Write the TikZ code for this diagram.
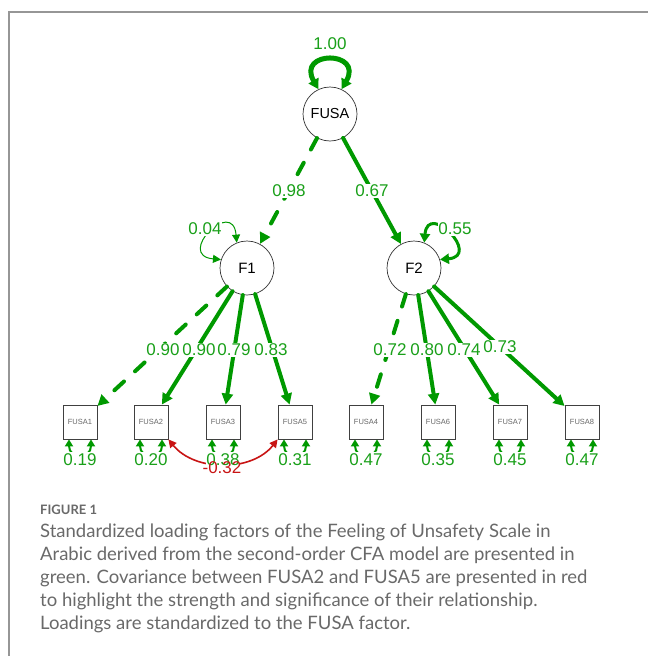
\documentclass[tikz,border=0pt]{standalone}
\usepackage{fontspec}
\setmainfont{Liberation Sans}
\newfontfamily\capfont{Lato}
\usetikzlibrary{arrows.meta}
\definecolor{lg}{RGB}{0,153,0}
\definecolor{lt}{RGB}{25,160,25}
\definecolor{cr}{RGB}{200,20,20}
\definecolor{fr}{RGB}{150,150,150}
\definecolor{capc}{RGB}{105,105,105}
\begin{document}
\begin{tikzpicture}[x=1pt,y=1pt,
  lat/.style={circle,draw=black!80,minimum size=54pt,inner sep=0pt,line width=0.7pt,font=\fontsize{14.5}{16}\selectfont},
  obs/.style={rectangle,draw=black!75,minimum size=34pt,inner sep=0pt,line width=0.8pt,text=black!60,font=\fontsize{7.5}{8}\selectfont},
  load/.style={lg,line width=4pt,line cap=round,-{Triangle[length=11pt,width=11pt]}},
  dload/.style={load,dash pattern=on 13pt off 15pt},
  biglab/.style={text=lt,fill=white,inner sep=0.5pt,font=\fontsize{17}{18}\selectfont},
  reslab/.style={text=lt,fill=white,inner xsep=0.5pt,inner ysep=2pt,font=\fontsize{17}{18}\selectfont},
  resloop/.style={lg,line width=2pt,{Triangle[length=7pt,width=8pt]}-{Triangle[length=7pt,width=8pt]}},
  covline/.style={cr,line width=1.6pt,{Triangle[length=8pt,width=8pt]}-{Triangle[length=8pt,width=8pt]}},
  caption/.style={anchor=base west,inner sep=0pt,text=capc,font=\capfont\fontsize{18.5}{20}\selectfont}
]
\useasboundingbox (0,0) rectangle (648,-656);
% frame
\draw[fr,line width=1.5pt] (9,-656) -- (9,-12) -- (648,-12);

% nodes
\node[lat] (FUSA) at (330,-114) {FUSA};
\node[lat,font=\fontsize{15}{16}\selectfont] (F1) at (247,-268) {F1};
\node[lat,font=\fontsize{15}{16}\selectfont] (F2) at (414,-268) {F2};
\node[obs] (x1) at (80,-422) {FUSA1};
\node[obs] (x2) at (151,-422) {FUSA2};
\node[obs] (x3) at (223,-422) {FUSA3};
\node[obs] (x5) at (295,-422) {FUSA5};
\node[obs] (x4) at (366,-422) {FUSA4};
\node[obs] (x6) at (438,-422) {FUSA6};
\node[obs] (x7) at (510,-422) {FUSA7};
\node[obs] (x8) at (582,-422) {FUSA8};

% loadings
\draw[dload] (FUSA) -- (F1);
\draw[load] (FUSA) -- (F2);
\draw[dload] (F1) -- (x1);
\draw[load] (F1) -- (x2);
\draw[load] (F1) -- (x3);
\draw[load] (F1) -- (x5);
\draw[dload] (F2) -- (x4);
\draw[load] (F2) -- (x6);
\draw[load] (F2) -- (x7);
\draw[load] (F2) -- (x8);

% variances of latents
\draw[lg,line width=5pt,{Triangle[length=10pt,width=11pt]}-{Triangle[length=10pt,width=11pt]}]
  (FUSA.115) .. controls +(120:45) and +(60:45) .. (FUSA.65);
\draw[lg,line width=1pt,{Triangle[length=8pt,width=8pt]}-{Triangle[length=8pt,width=8pt]}]
  (F1.112) .. controls +(95:46) and +(175:46) .. (F1.162);
\draw[lg,line width=3pt,{Triangle[length=9pt,width=10pt]}-{Triangle[length=9pt,width=10pt]}]
  (F2.68) .. controls +(85:42) and +(5:42) .. (F2.18);

% residual loops
\foreach \n in {x1,x2,x3,x4,x5,x6,x7,x8}{
  \draw[resloop] ([xshift=-11pt]\n.south) .. controls +(0,-20) and +(0,-20) .. ([xshift=11pt]\n.south);
}

% covariance
\draw[covline] (x2.south east) .. controls (195,-472) and (252,-472) .. (x5.south west);

% labels
\node[biglab] at (330,-44) {1.00};
\node[biglab] at (289,-191) {0.98};
\node[biglab] at (372,-191) {0.67};
\node[biglab] at (205,-229) {0.04};
\node[biglab] at (455,-229) {0.55};
\node[biglab] at (163,-350) {0.90};
\node[biglab] at (199,-350) {0.90};
\node[biglab] at (234,-350) {0.79};
\node[biglab] at (271,-350) {0.83};
\node[biglab] at (390,-350) {0.72};
\node[biglab] at (427,-350) {0.80};
\node[biglab] at (464,-350) {0.74};
\node[biglab] at (500,-347) {0.73};
\node[reslab] at (80,-460) {0.19};
\node[reslab] at (151,-460) {0.20};
\node[reslab] at (223,-460) {0.38};
\node[reslab] at (295,-460) {0.31};
\node[reslab] at (366,-460) {0.47};
\node[reslab] at (438,-460) {0.35};
\node[reslab] at (510,-460) {0.45};
\node[reslab] at (582,-460) {0.47};
\node[text=cr,inner sep=0pt,font=\fontsize{17}{18}\selectfont] at (222,-468) {-0.32};

% caption
\node[anchor=base west,inner sep=0pt,text=capc,font=\capfont\bfseries\fontsize{13}{14}\selectfont] at (40,-514) {FIGURE 1};
\node[caption] at (40,-537) {Standardized loading factors of the Feeling of Unsafety Scale in};
\node[caption] at (40,-560) {Arabic derived from the second-order CFA model are presented in};
\node[caption] at (40,-583) {green. Covariance between FUSA2 and FUSA5 are presented in red};
\node[caption] at (40,-606) {to highlight the strength and significance of their relationship.};
\node[caption] at (40,-629) {Loadings are standardized to the FUSA factor.};
\end{tikzpicture}
\end{document}
